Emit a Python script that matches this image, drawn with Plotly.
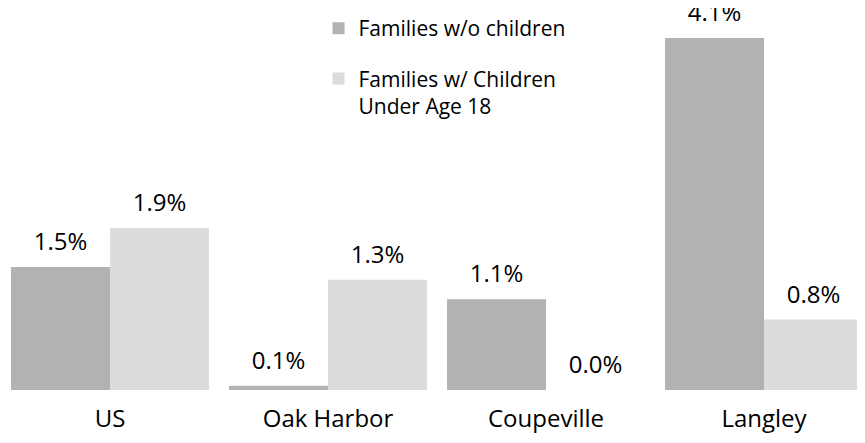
import plotly.graph_objects as go

places = ["US", "Oak Harbor", "Coupeville", "Langley"]

# bar heights, labels as printed on it
no_children = [1.45, 0.05, 1.07, 4.15]
no_children_labels = ["1.5%", "0.1%", "1.1%", "4.1%"]
with_children = [1.91, 1.30, 0.0, 0.83]
with_children_labels = ["1.9%", "1.3%", "0.0%", "0.8%"]

series = [
    ("Families w/o children", no_children, no_children_labels, "#B2B2B2"),
    ("Families w/ Children<br>Under Age 18", with_children, with_children_labels, "#DCDCDC"),
]

FONT = "Open Sans"
GAP = 0.092

fig = go.Figure()
for i, (name, values, labels, color) in enumerate(series):
    fig.add_trace(go.Bar(
        x=places, y=values, name=name, marker_color=color,
        marker_line_width=0, offsetgroup=str(i), legendgroup=str(i),
    ))
# value labels sit a little above each bar, like the original
for i, (name, values, labels, color) in enumerate(series):
    fig.add_trace(go.Scatter(
        x=places, y=values, text=labels, mode="markers+text",
        textposition="top center", marker=dict(size=16, opacity=0),
        textfont=dict(family=FONT, size=24, color="#000000"),
        offsetgroup=str(i), alignmentgroup="a", showlegend=False,
        cliponaxis=False, hoverinfo="skip",
    ))

fig.update_layout(
    width=865, height=443,
    margin=dict(l=0, r=0, t=0, b=61),
    barmode="group", bargap=GAP, bargroupgap=0,
    scattermode="group", scattergap=GAP,
    plot_bgcolor="white", paper_bgcolor="white",
    font=dict(family=FONT, color="#000000"),
    legend=dict(
        x=0.359, y=1.0, xanchor="left", yanchor="top",
        font=dict(family=FONT, size=21), valign="top",
        tracegroupgap=20, traceorder="grouped",
    ),
    showlegend=True,
)
fig.update_xaxes(
    range=[-0.468, 3.5], showline=False, showgrid=False, zeroline=False,
    tickfont=dict(family=FONT, size=24), ticklabelstandoff=12,
)
fig.update_yaxes(range=[0, 4.505], visible=False)

fig.write_html("out.html")
